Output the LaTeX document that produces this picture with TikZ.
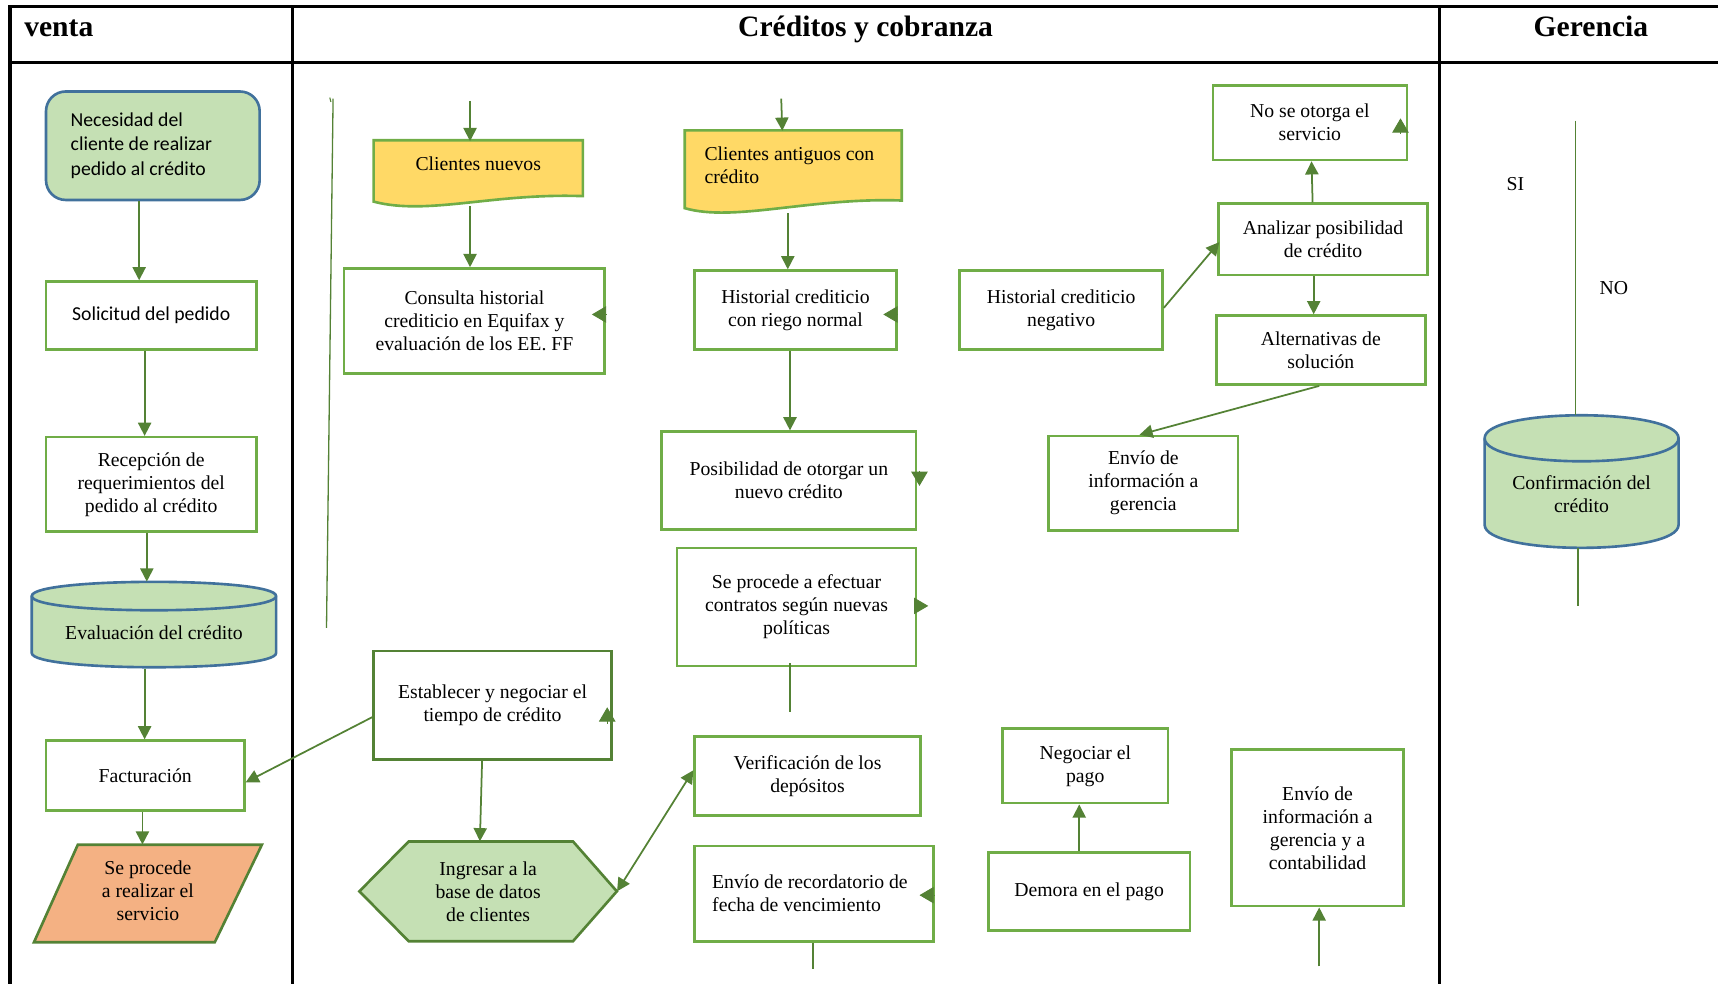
\documentclass[tikz,border=0pt]{standalone}
\usepackage{fontspec}
\setmainfont{Liberation Serif}
\newfontfamily\calfont{Carlito}
\usetikzlibrary{calc,arrows.meta}
\definecolor{lgreen}{HTML}{C5E0B4}
\definecolor{bgreen}{HTML}{70AD47}
\definecolor{dgreen}{HTML}{548235}
\definecolor{dyellow}{HTML}{FFD966}
\definecolor{lorange}{HTML}{F4B183}
\definecolor{nblue}{HTML}{41719C}
\begin{document}
\begin{tikzpicture}[x=1pt,y=-1pt,
  every node/.style={font=\fontsize{18}{21}\selectfont, inner sep=0pt},
  box/.style={draw=bgreen, line width=2.4pt, fill=white, align=center},
  dbox/.style={draw=dgreen, line width=2.4pt, fill=white, align=center},
  plain/.style={align=center},
  arr/.style={draw=dgreen, line width=1.6pt, -{Triangle[length=12pt,width=12pt]}},
  dblarr/.style={draw=dgreen, line width=1.6pt, {Triangle[length=12pt,width=12pt]}-{Triangle[length=12pt,width=12pt]}},
  conn/.style={draw=dgreen, line width=1.6pt},
  tipmark/.style={draw=dgreen, line width=0.8pt, -{Triangle[length=13pt,width=15pt]}},
  tbl/.style={line width=3pt, black},
  lane/.style={font=\fontsize{27}{30}\selectfont\bfseries},
  shapeline/.style={line width=2.4pt, line join=miter},
]
\useasboundingbox (0,0) rectangle (1568,898);

% ---------- swimlane table ----------
\draw[tbl] (9,898) -- (9,6) -- (1572,6);
\draw[tbl] (9,57) -- (1572,57);
\draw[tbl] (267,6) -- (267,898);
\draw[tbl] (1314,6) -- (1314,898);
\node[lane, anchor=base west] (hventa) at (22,33) {venta};
\node[lane, anchor=base] (hcred) at (790,33) {Créditos y cobranza};
\node[lane, anchor=base] (hger) at (1452,33) {Gerencia};

% ---------- lane: venta ----------
\node[draw=nblue, fill=lgreen, line width=2.4pt, rounded corners=18pt,
      minimum width=195pt, minimum height=99pt, text width=150pt, align=left,
      font=\calfont\fontsize{18}{22}\selectfont] (nec) at (139.5,133)
      {\spaceskip=0pt\relax Necesidad del\\cliente de realizar\\pedido al crédito};
\node[box, minimum width=192pt, minimum height=62pt, font=\calfont\fontsize{18}{22}\selectfont]
      (sol) at (138,288) {Solicitud del pedido};
\node[box, minimum width=192pt, minimum height=86pt] (rec) at (138,442)
      {Recepción de\\requerimientos del\\pedido al crédito};

% cylinder: Evaluación del crédito
\path[fill=lgreen, draw=nblue, shapeline]
  (29,544) -- (29,596) .. controls (29,613.3) and (252,613.3) .. (252,596)
  -- (252,544) .. controls (252,526.7) and (29,526.7) .. (29,544) -- cycle;
\draw[nblue, shapeline] (29,544) .. controls (29,561.3) and (252,561.3) .. (252,544);
\node[plain, minimum width=223pt, minimum height=65pt] (eva) at (140.5,577.5) {Evaluación del crédito};

\node[box, minimum width=181pt, minimum height=64pt] (fac) at (132.5,708) {Facturación};

% parallelogram: Se procede a realizar el servicio
\path[fill=lorange, draw=dgreen, shapeline] (71,771) -- (239,771) -- (196,860) -- (31,860) -- cycle;
\node[plain, minimum width=208pt, minimum height=89pt] (ser) at (135,813)
      {Se procede\\a realizar el\\servicio};

% ---------- lane: Créditos y cobranza ----------
% document shape: Clientes nuevos
\path[fill=dyellow, draw=bgreen, shapeline]
  (341,128) -- (532,128) -- (532,179) .. controls (450,176) and (390,197) .. (341,184) -- cycle;
\node[plain, minimum width=191pt, minimum height=40pt] (cn) at (436.5,149) {Clientes nuevos};

% document shape: Clientes antiguos con crédito
\path[fill=dyellow, draw=bgreen, shapeline]
  (625,119) -- (823,119) -- (823,183) .. controls (740,180) and (670,203) .. (625,190) -- cycle;
\node[align=left, text width=162pt, inner xsep=18pt, minimum height=63pt] (ca) at (724,151)
      {\spaceskip=0pt\relax Clientes antiguos con\\crédito};

\node[box, minimum width=238pt, minimum height=96pt] (con) at (433,293)
      {Consulta historial\\crediticio en Equifax y\\evaluación de los EE. FF};
\node[box, minimum width=184pt, minimum height=72pt] (hn) at (726,283)
      {Historial crediticio\\con riego normal};
\node[box, minimum width=232pt, minimum height=89pt] (pos) at (720,438.5)
      {Posibilidad de otorgar un\\nuevo crédito};
\node[box, minimum width=218pt, minimum height=108pt] (sep) at (727,554)
      {Se procede a efectuar\\contratos según nuevas\\políticas};
\node[dbox, minimum width=217pt, minimum height=99pt] (estab) at (449.5,643.5)
      {Establecer y negociar el\\tiempo de crédito};

% hexagon: Ingresar a la base de datos de clientes
\path[fill=lgreen, draw=dgreen, shapeline]
  (328,813.5) -- (373,768) -- (523,768) -- (563,813.5) -- (523,859) -- (373,859) -- cycle;
\node[plain, minimum width=235pt, minimum height=91pt] (hex) at (445.5,813.5)
      {Ingresar a la\\base de datos\\de clientes};

\node[box, minimum width=206pt, minimum height=72pt] (ver) at (737,708)
      {Verificación de los\\depósitos};
\node[box, minimum width=218pt, minimum height=87pt, align=left, text width=186pt, inner xsep=16pt]
      (env) at (743,815.5) {\spaceskip=0pt\relax Envío de recordatorio de\\fecha de vencimiento};

\node[box, minimum width=185pt, minimum height=72pt] (hneg) at (968.5,283)
      {Historial crediticio\\negativo};
\node[box, minimum width=191pt, minimum height=65pt] (ana) at (1207.5,218.5)
      {Analizar posibilidad\\de crédito};
\node[box, minimum width=177pt, minimum height=68pt] (nos) at (1195.5,112)
      {No se otorga el\\servicio};
\node[box, minimum width=191pt, minimum height=63pt] (alt) at (1205.5,319.5)
      {Alternativas de\\solución};
\node[box, minimum width=173pt, minimum height=86pt] (eig) at (1043.5,441)
      {Envío de\\información a\\gerencia};
\node[box, minimum width=151pt, minimum height=68pt] (neg) at (990.5,699)
      {Negociar el\\pago};
\node[box, minimum width=184pt, minimum height=71pt] (dem) at (994,813.5)
      {Demora en el pago};
\node[box, minimum width=157pt, minimum height=143pt] (eigc) at (1202.5,755.5)
      {Envío de\\información a\\gerencia y a\\contabilidad};

% ---------- lane: Gerencia ----------
\node (si) at (1383,168) {SI};
\node (no) at (1473,263) {NO};
\path[fill=lgreen, draw=nblue, shapeline]
  (1355,400) -- (1355,479) .. controls (1355,507) and (1532,507) .. (1532,479)
  -- (1532,400) .. controls (1532,372) and (1355,372) .. (1355,400) -- cycle;
\draw[nblue, shapeline] (1355,400) .. controls (1355,428) and (1532,428) .. (1532,400);
\node[plain, minimum width=177pt, minimum height=100pt] (conf) at (1443.5,451)
      {Confirmación del\\crédito};

% ---------- free ends ----------
\coordinate (vtop) at (304,90);
\coordinate (vbot) at (298,573);
\coordinate (cnin) at (429,92);
\coordinate (cain) at (713,90);
\coordinate (sepout) at (721,650);
\coordinate (envout) at (742,884);
\coordinate (eigcin) at (1204,882);
\coordinate (gtop) at (1438,110);
\coordinate (gbot) at (1440,553);
\coordinate (conftop) at (1438,379);
\coordinate (confbot) at (1440,500);

% ---------- connectors: venta ----------
\draw[arr] ($(nec.south)+(-12.5,0)$) -- ($(sol.north)+(-11,0)$);
\draw[arr] ($(sol.south)+(-6,0)$) -- ($(rec.north)+(-6,0)$);
\draw[arr] ($(rec.south)+(-4,0)$) -- ($(eva.north)+(-6.5,-14)$);
\draw[arr] ($(eva.south)+(-8.5,0)$) -- ($(fac.north)+(-0.5,0)$);
\draw[arr] ($(fac.south)+(-2.5,0)$) -- ($(ser.north)+(-5,2.5)$);

% ---------- connectors: Créditos y cobranza ----------
\draw[conn, line width=1.2pt] (vtop) -- (vbot);
\draw[conn, line width=1pt] ($(vtop)+(-3,-1)$) -- ($(vtop)+(-2,3)$);
\draw[arr] (cnin) -- (cnin |- cn.north);
\draw[arr] ($(cn.south)+(-7.5,19)$) -- ($(con.north)+(-4,0)$);
\draw[arr] (cain) -- ($(ca.north)+(-10,0)$);
\draw[arr] ($(ca.south)+(-5,12)$) -- ($(hn.north)+(-7,0)$);
\draw[arr] ($(hn.south)+(-5,0)$) -- ($(pos.north)+(1,0)$);
\draw[conn] ($(sep.south)+(-6,-4)$) -- (sepout);
\draw[arr] ($(estab.west)+(0,11)$) -- ($(fac.east)+(0,6)$);
\draw[arr] ($(estab.south)+(-9.5,0)$) -- ($(hex.north)+(-7.5,0)$);
\draw[dblarr] (hex.east) -- ($(ver.west)+(0,-5)$);
\draw[conn] ($(env.south)+(-1,0)$) -- (envout);
\draw[arr] ($(hneg.east)+(0,-2)$) -- ($(ana.west)+(2,2.5)$);
\draw[arr] ($(ana.north)+(-9.5,0)$) -- ($(nos.south)+(1.5,0)$);
\draw[arr] ($(ana.south)+(-8.5,0)$) -- ($(alt.north)+(-6.5,0)$);
\draw[arr] ($(alt.south)+(-1.5,0)$) -- ($(eig.north)+(-3.5,0)$);
\draw[arr] ($(dem.north)+(-9,0)$) -- ($(neg.south)+(-5.5,0)$);
\draw[arr] (eigcin) -- (eigcin |- eigc.south);

% arrow tips sitting on box borders
\draw[tipmark] ($(con.east)+(0,-6)$) -- ($(con.east)+(-13,-6)$);
\draw[tipmark] ($(hn.east)+(0,4)$) -- ($(hn.east)+(-13,4)$);
\draw[tipmark] ($(pos.east)+(2,-9)$) -- ($(pos.east)+(2,5)$);
\draw[tipmark] ($(sep.east)+(-3,-1)$) -- ($(sep.east)+(10,-1)$);
\draw[tipmark] ($(estab.east)+(-5,17)$) -- ($(estab.east)+(-5,2)$);
\draw[tipmark] ($(env.east)+(0,1.5)$) -- ($(env.east)+(-14,1.5)$);
\draw[tipmark] ($(nos.east)+(-7,10)$) -- ($(nos.east)+(-7,-4)$);

% ---------- connectors: Gerencia ----------
\draw[conn] (gtop) -- (conftop);
\draw[conn] (confbot) -- (gbot);
\end{tikzpicture}
\end{document}
